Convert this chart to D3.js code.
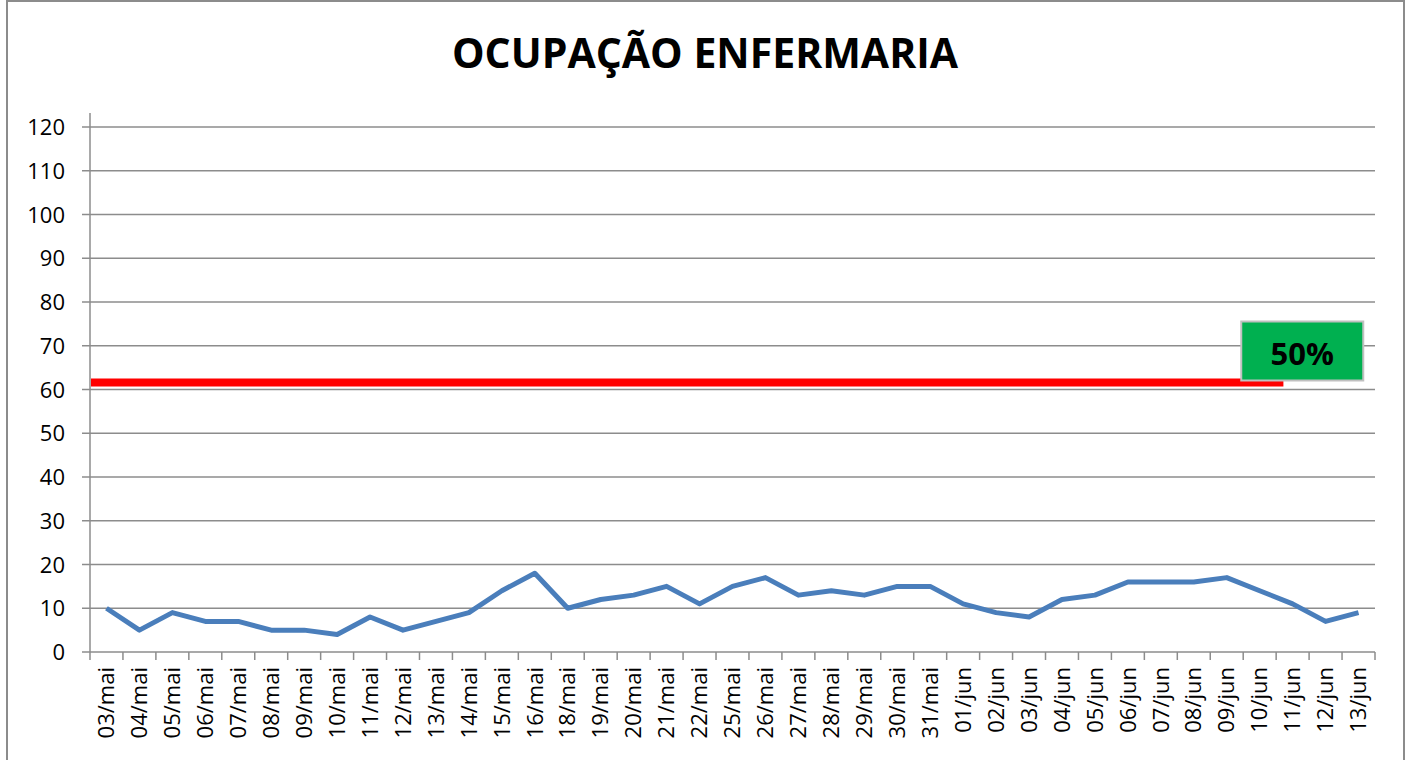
<!DOCTYPE html>
<html lang="pt">
<head>
<meta charset="UTF-8">
<script src="https://d3js.org/d3.v7.min.js"></script>
<title>Ocupação Enfermaria</title>
<style>
  body { margin: 0; background: #fff; }
  svg text { font-family: "Open Sans", "Liberation Sans", sans-serif; }
</style>
</head>
<body>
<svg id="chart" width="1411" height="760"></svg>
<script>
// dados
const dias = ["03/mai","04/mai","05/mai","06/mai","07/mai","08/mai","09/mai","10/mai","11/mai","12/mai",
  "13/mai","14/mai","15/mai","16/mai","18/mai","19/mai","20/mai","21/mai","22/mai","25/mai",
  "26/mai","27/mai","28/mai","29/mai","30/mai","31/mai","01/jun","02/jun","03/jun","04/jun",
  "05/jun","06/jun","07/jun","08/jun","09/jun","10/jun","11/jun","12/jun","13/jun"]
const ocupacao = [10,5,9,7,7,5,5,4,8,5,
  7,9,14,18,10,12,13,15,11,15,
  17,13,14,13,15,15,11,9,8,12,
  13,16,16,16,17,14,11,7,9]
const limite = 61.6
const limiteLabel = "50%"
const yTicks = [0,10,20,30,40,50,60,70,80,90,100,110,120]

const width = 1411, height = 760
const m = { left: 90, right: 1375, top: 127, bottom: 652 }
const svg = d3.select("#chart")

// borda externa
svg.append("rect")
  .attr("x", 7).attr("y", 1).attr("width", 1397).attr("height", 770)
  .attr("fill", "none").attr("stroke", "#8c8c8c").attr("stroke-width", 2)

svg.append("text")
  .attr("x", 705).attr("y", 68)
  .attr("text-anchor", "middle")
  .style("font-size", "41px").style("font-weight", "bold")
  .text("OCUPAÇÃO ENFERMARIA")

let x = d3.scaleBand().domain(dias).range([m.left, m.right]).padding(0)
let y = d3.scaleLinear().domain([0, 120]).range([m.bottom, m.top])

// grade
svg.append("g")
  .selectAll("line")
  .data(yTicks)
  .enter()
  .append("line")
  .attr("x1", m.left - 8).attr("x2", m.right)
  .attr("y1", d => y(d)).attr("y2", d => y(d))
  .attr("stroke", "#8c8c8c").attr("stroke-width", 1.5)

// eixo y
let yAxis = svg.append("g")
  .attr("transform", `translate(${m.left},0)`)
  .call(d3.axisLeft(y).tickValues(yTicks).tickSize(8).tickPadding(17))
yAxis.select(".domain").remove()
yAxis.selectAll("line").remove()
yAxis.selectAll("text").style("font-size", "22px").attr("fill", "#000").attr("dy", "0.35em")
svg.append("line")
  .attr("x1", m.left).attr("x2", m.left)
  .attr("y1", 113).attr("y2", m.bottom + 8)
  .attr("stroke", "#8c8c8c").attr("stroke-width", 1.5)

// eixo x
let xAxis = svg.append("g")
  .attr("transform", `translate(0,${m.bottom})`)
  .call(d3.axisBottom(x).tickSize(0))
xAxis.select(".domain").remove()
xAxis.selectAll("text")
  .style("font-size", "22px").attr("fill", "#000")
  .attr("transform", "rotate(-90)")
  .attr("text-anchor", "end")
  .attr("x", -15).attr("y", 0).attr("dy", "0.35em")

svg.append("g")
  .selectAll("line")
  .data(dias)
  .enter()
  .append("line")
  .attr("x1", d => x(d) + x.bandwidth()).attr("x2", d => x(d) + x.bandwidth())
  .attr("y1", m.bottom).attr("y2", m.bottom + 8)
  .attr("stroke", "#8c8c8c").attr("stroke-width", 1.5)

// linha limite
svg.append("line")
  .attr("x1", m.left + 1).attr("x2", x("10/jun") + x.bandwidth() * 1.22)
  .attr("y1", y(limite)).attr("y2", y(limite))
  .attr("stroke", "#ff0000").attr("stroke-width", 8)

// serie
let line = d3.line()
  .x((d, i) => x(dias[i]) + x.bandwidth() / 2)
  .y(d => y(d))
svg.append("path")
  .datum(ocupacao)
  .attr("d", line)
  .attr("fill", "none")
  .attr("stroke", "#4a7ebb")
  .attr("stroke-width", 5)
  .attr("stroke-linejoin", "round")

// rotulo 50%
let bx = x("09/jun") + 31, bw = 122
svg.append("rect")
  .attr("x", bx).attr("y", y(limite) - 61).attr("width", bw).attr("height", 59)
  .attr("fill", "#00b050").attr("stroke", "#c0c0c0").attr("stroke-width", 2)
svg.append("text")
  .attr("x", bx + bw / 2).attr("y", y(limite) - 18)
  .attr("text-anchor", "middle")
  .style("font-size", "31px").style("font-weight", "bold")
  .text(limiteLabel)
</script>
</body>
</html>
